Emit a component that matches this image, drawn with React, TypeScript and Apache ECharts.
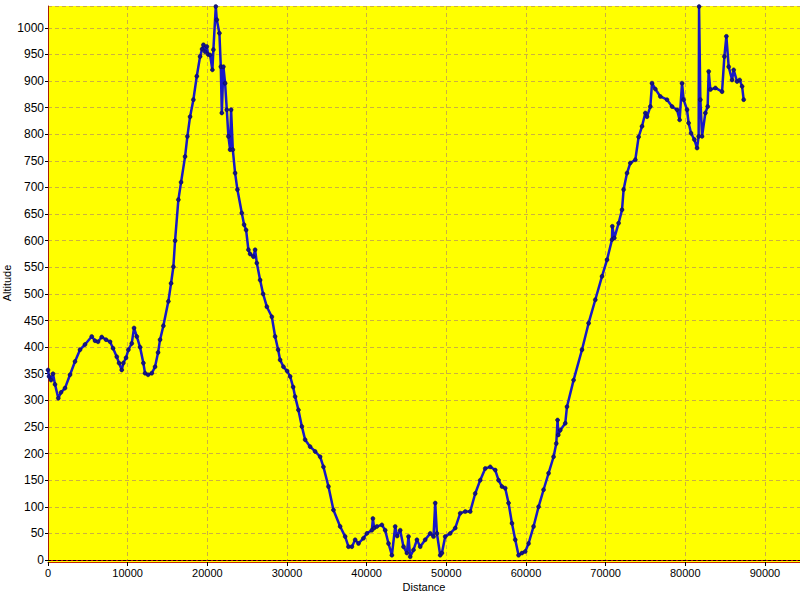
import React, { useEffect, useRef } from "react";
import * as echarts from "echarts";

// Distance (m) along the route
const distance: number[] = [
  0, 126, 377, 628, 879, 1294, 1633, 2135, 2763, 3391, 4019, 4647, 5489, 5903, 6280, 6745, 7285, 7787, 8164, 8629,
  8918, 9257, 9458, 9797, 10086, 10513, 10802, 11141, 11555, 11970, 12183, 12560, 13025, 13439, 13816, 14067, 14482, 15109, 15449, 15738,
  15951, 16366, 16705, 17207, 17496, 17835, 18250, 18677, 19091, 19342, 19509, 19722, 19936, 20099, 20347, 20636, 20762, 21063, 21189, 21516,
  21692, 21818, 22019, 22231, 22445, 22646, 22859, 22985, 23199, 23487, 23776, 24329, 24618, 24869, 25158, 25371, 25786, 25999, 26213, 26627,
  27004, 27469, 28097, 28512, 28889, 29139, 29554, 30018, 30395, 30772, 31023, 31438, 31865, 32279, 32907, 33535, 34163, 34578, 35206, 35834,
  36675, 37303, 37718, 38145, 38559, 38974, 39602, 40029, 40657, 40783, 40946, 41285, 41913, 42327, 42742, 43169, 43583, 43834, 44211, 44625,
  45052, 45253, 45467, 45882, 46310, 46723, 47351, 47979, 48394, 48608, 48821, 49235, 49449, 49863, 50491, 51119, 51747, 52375, 53003, 53631,
  54259, 54887, 55515, 56143, 56558, 56985, 57399, 57814, 58241, 58655, 59070, 59497, 59911, 60326, 60954, 61582, 62210, 62838, 63466, 63805,
  63968, 64057, 64307, 64935, 65148, 65977, 67032, 67862, 68703, 69545, 70173, 70801, 70838, 71090, 71630, 72057, 72258, 72685, 73099, 73727,
  74142, 74569, 74983, 75197, 75611, 75824, 76239, 76867, 77708, 78336, 78964, 79291, 79592, 79793, 80220, 80421, 80723, 81138, 81477, 81678,
  81728, 81891, 82105, 82519, 82808, 82934, 83147, 83775, 84617, 84906, 85157, 85446, 85873, 86074, 86501, 86828, 87129, 87330,
];

// Altitude (m) at each distance
const altitude: number[] = [
  357, 345, 338, 350, 330, 304, 315, 323, 348, 373, 395, 405, 420, 412, 410, 419, 414, 410, 398, 382,
  370, 357, 370, 380, 395, 407, 436, 420, 400, 370, 351, 348, 351, 363, 390, 414, 440, 486, 520, 551,
  600, 677, 710, 758, 796, 833, 865, 909, 946, 960, 968, 955, 965, 950, 949, 921, 959, 1040, 1015, 990,
  927, 840, 927, 896, 846, 796, 771, 846, 771, 727, 696, 652, 630, 620, 583, 575, 570, 583, 558, 526,
  500, 476, 457, 420, 395, 376, 363, 355, 345, 325, 307, 282, 251, 226, 213, 204, 194, 175, 138, 94,
  63, 44, 25, 25, 38, 31, 41, 50, 56, 78, 60, 63, 66, 56, 31, 9, 63, 45, 56, 25,
  13, 44, 6, 19, 38, 25, 38, 50, 44, 107, 50, 9, 13, 44, 50, 60, 88, 91, 91, 125,
  150, 172, 175, 169, 150, 138, 135, 107, 69, 38, 9, 13, 16, 31, 63, 100, 132, 163, 194, 219,
  263, 235, 244, 257, 288, 338, 395, 445, 489, 533, 564, 602, 627, 605, 633, 658, 696, 727, 746, 752,
  795, 815, 840, 833, 852, 896, 885, 871, 865, 852, 846, 827, 896, 865, 846, 821, 802, 790, 774, 796,
  1040, 865, 796, 840, 852, 918, 884, 887, 880, 946, 984, 927, 902, 921, 899, 902, 890, 865,
];

const xName = "Distance";
const yName = "Altitude";

export default function App() {
  const ref = useRef<HTMLDivElement>(null);

  useEffect(() => {
    if (!ref.current) return;
    const chart = echarts.init(ref.current, undefined, { renderer: "svg" });
    const pts = distance.map((d, i) => [d, altitude[i]]);
    const font = "'Liberation Sans', Arial, sans-serif";
    const gridColor = "#ccb040";
    chart.setOption({
      animation: false,
      backgroundColor: "#ffffff",
      grid: {
        left: 48,
        right: 0,
        top: 6,
        bottom: 40,
        containLabel: false,
        outerBoundsMode: "none",
        show: true,
        backgroundColor: "#ffff00",
        borderWidth: 0,
      },
      graphic: [
        {
          type: "rect",
          shape: { x: 48, y: 560, width: 752, height: 2 },
          style: { fill: "#ffff00" },
          silent: true,
          z: -1,
        },
      ],
      xAxis: [
        {
          type: "value",
          min: 0,
          max: 94400,
          interval: 10000,
          offset: 2,
          name: xName,
          nameLocation: "middle",
          nameGap: 19,
          nameMoveOverlap: false,
          nameTextStyle: { fontFamily: font, fontSize: 11, color: "#000" },
          axisLine: { show: true, onZero: false, lineStyle: { color: "#c02000", width: 1 } },
          axisTick: { show: true, length: 4, lineStyle: { color: "#000" } },
          axisLabel: {
            fontFamily: font,
            fontSize: 11,
            color: "#000",
            margin: 5,
            showMaxLabel: false,
            formatter: (v: number) => String(v),
          },
          splitLine: { show: true, lineStyle: { color: gridColor, type: [4, 3], width: 1 } },
        },
        {
          type: "value",
          position: "top",
          min: 0,
          max: 94400,
          axisLine: { show: true, lineStyle: { color: "#cc0000", width: 1 } },
          axisTick: { show: false },
          axisLabel: { show: false },
          splitLine: { show: false },
        },
      ],
      yAxis: {
        type: "value",
        min: 0,
        max: 1041,
        interval: 50,
        name: yName,
        nameLocation: "middle",
        nameRotate: 90,
        nameGap: 36,
        nameMoveOverlap: false,
        nameTextStyle: { fontFamily: font, fontSize: 11, color: "#000" },
        axisLine: { show: true, onZero: false, lineStyle: { color: "#a82000", width: 1 } },
        axisTick: { show: true, length: 3, lineStyle: { color: "#000" } },
        axisLabel: {
          fontFamily: font,
          fontSize: 12,
          color: "#000",
          margin: 4,
          showMaxLabel: false,
          formatter: (v: number) => String(v),
        },
        splitLine: { show: true, lineStyle: { color: gridColor, type: [4, 3], width: 1 } },
      },
      series: [
        {
          type: "line",
          xAxisIndex: 0,
          data: pts,
          showSymbol: true,
          symbol: "circle",
          symbolSize: 4,
          lineStyle: { color: "#1818c8", width: 2.5 },
          itemStyle: { color: "#14148a", borderColor: "#0a0a50", borderWidth: 0.5 },
          markLine: {
            silent: true,
            symbol: "none",
            label: { show: false },
            lineStyle: { color: "#000", type: [3, 2], width: 1 },
            data: [{ yAxis: 0 }],
          },
          z: 5,
        },
      ],
    });
    return () => chart.dispose();
  }, []);

  return (
    <div
      ref={ref}
      style={{ width: 800, height: 600, position: "absolute", left: 0, top: 0 }}
    />
  );
}
